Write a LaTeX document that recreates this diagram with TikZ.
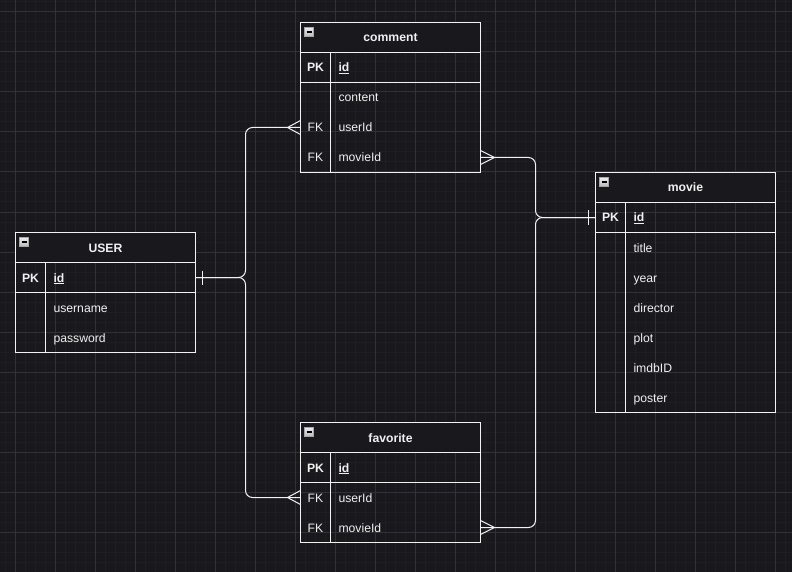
\documentclass[tikz,border=0pt]{standalone}
\usepackage{fontspec}
\setmainfont{Liberation Sans}
\usetikzlibrary{positioning,calc}
\definecolor{bgc}{HTML}{19181D}
\definecolor{gridmin}{HTML}{1F1E23}
\definecolor{gridmaj}{HTML}{323137}
\definecolor{linec}{HTML}{F2F2F2}
\definecolor{txtc}{HTML}{F0F0F0}
\def\pkey(#1){\underline{\textbf{#1}}}
\tikzset{
  hdr/.style={draw=linec, fill=bgc, line width=1pt, minimum width=180pt, minimum height=30pt,
    inner sep=0pt, outer sep=0pt, text height=11pt, text depth=2pt, text=txtc,
    font=\fontsize{12.2}{14}\selectfont\bfseries},
  keycell/.style={minimum width=30pt, minimum height=30pt, inner sep=0pt, outer sep=0pt,
    text height=11pt, text depth=2pt, text=txtc, font=\fontsize{12.2}{14}\selectfont},
  fieldcell/.style={minimum height=30pt, text width=134pt, inner xsep=8pt, inner ysep=0pt,
    outer sep=0pt, align=left, text height=11pt, text depth=2pt, text=txtc,
    font=\fontsize{12.2}{14}\selectfont},
  icon/.style={draw=gray!70, top color=gray!15, bottom color=gray!55, minimum size=9pt,
    inner sep=0pt, outer sep=0pt},
  tblline/.style={draw=linec, line width=1pt},
  conn/.style={draw=linec, line width=1pt, rounded corners=7pt},
  gridminor/.style={draw=gridmin, line width=1pt},
  gridmajor/.style={draw=gridmaj, line width=1pt}
}

\begin{document}
\begin{tikzpicture}[x=1pt,y=-1pt]
\useasboundingbox (0,0) rectangle (792,572);
\fill[bgc] (0,0) rectangle (792,572);
\foreach \x in {5,15,...,785} \draw[gridminor] (\x,0) -- (\x,572);
\foreach \y in {2,12,...,572} \draw[gridminor] (0,\y) -- (792,\y);
\foreach \x in {15,55,...,775} \draw[gridmajor] (\x,0) -- (\x,572);
\foreach \y in {12,52,...,572} \draw[gridmajor] (0,\y) -- (792,\y);

% USER
\node[hdr, anchor=north west] (user) at (15.5,232.5) {USER};
\node[icon, below right=5pt and 4pt of user.north west] (user-icon) {\textcolor{black}{\rule{5pt}{1.4pt}}};
\node[keycell, below right=0pt of user.south west] (user-pk) {\textbf{PK}};
\node[fieldcell, right=0pt of user-pk] (user-id) {\pkey(id)};
\node[keycell, below=0pt of user-pk] (user-k2) {};
\node[fieldcell, right=0pt of user-k2] (user-name) {username};
\node[keycell, below=0pt of user-k2] (user-k3) {};
\node[fieldcell, right=0pt of user-k3] (user-pw) {password};
\draw[tblline] (user.north west) rectangle (user-pw.south east);
\draw[tblline] (user-pk.south west) -- (user-id.south east);
\draw[tblline] (user-pk.north east) -- (user-k3.south east);

% comment
\node[hdr, anchor=north west] (cmt) at (300.5,22.5) {comment};
\node[icon, below right=5pt and 4pt of cmt.north west] (cmt-icon) {\textcolor{black}{\rule{5pt}{1.4pt}}};
\node[keycell, below right=0pt of cmt.south west] (cmt-pk) {\textbf{PK}};
\node[fieldcell, right=0pt of cmt-pk] (cmt-id) {\pkey(id)};
\node[keycell, below=0pt of cmt-pk] (cmt-k2) {};
\node[fieldcell, right=0pt of cmt-k2] (cmt-content) {content};
\node[keycell, below=0pt of cmt-k2] (cmt-uk) {FK};
\node[fieldcell, right=0pt of cmt-uk] (cmt-uid) {userId};
\node[keycell, below=0pt of cmt-uk] (cmt-mk) {FK};
\node[fieldcell, right=0pt of cmt-mk] (cmt-mid) {movieId};
\draw[tblline] (cmt.north west) rectangle (cmt-mid.south east);
\draw[tblline] (cmt-pk.south west) -- (cmt-id.south east);
\draw[tblline] (cmt-pk.north east) -- (cmt-mk.south east);

% movie
\node[hdr, anchor=north west] (mov) at (595.5,172.5) {movie};
\node[icon, below right=5pt and 4pt of mov.north west] (mov-icon) {\textcolor{black}{\rule{5pt}{1.4pt}}};
\node[keycell, below right=0pt of mov.south west] (mov-pk) {\textbf{PK}};
\node[fieldcell, right=0pt of mov-pk] (mov-id) {\pkey(id)};
\node[keycell, below=0pt of mov-pk] (mov-k2) {};
\node[fieldcell, right=0pt of mov-k2] (mov-title) {title};
\node[keycell, below=0pt of mov-k2] (mov-k3) {};
\node[fieldcell, right=0pt of mov-k3] (mov-year) {year};
\node[keycell, below=0pt of mov-k3] (mov-k4) {};
\node[fieldcell, right=0pt of mov-k4] (mov-dir) {director};
\node[keycell, below=0pt of mov-k4] (mov-k5) {};
\node[fieldcell, right=0pt of mov-k5] (mov-plot) {plot};
\node[keycell, below=0pt of mov-k5] (mov-k6) {};
\node[fieldcell, right=0pt of mov-k6] (mov-imdb) {imdbID};
\node[keycell, below=0pt of mov-k6] (mov-k7) {};
\node[fieldcell, right=0pt of mov-k7] (mov-poster) {poster};
\draw[tblline] (mov.north west) rectangle (mov-poster.south east);
\draw[tblline] (mov-pk.south west) -- (mov-id.south east);
\draw[tblline] (mov-pk.north east) -- (mov-k7.south east);

% favorite
\node[hdr, anchor=north west] (fav) at (300.5,422.5) {favorite};
\node[icon, below right=5pt and 4pt of fav.north west] (fav-icon) {\textcolor{black}{\rule{5pt}{1.4pt}}};
\node[keycell, below right=0pt of fav.south west] (fav-pk) {\textbf{PK}};
\node[fieldcell, right=0pt of fav-pk] (fav-id) {\pkey(id)};
\node[keycell, below=0pt of fav-pk] (fav-uk) {FK};
\node[fieldcell, right=0pt of fav-uk] (fav-uid) {userId};
\node[keycell, below=0pt of fav-uk] (fav-mk) {FK};
\node[fieldcell, right=0pt of fav-mk] (fav-mid) {movieId};
\draw[tblline] (fav.north west) rectangle (fav-mid.south east);
\draw[tblline] (fav-pk.south west) -- (fav-id.south east);
\draw[tblline] (fav-pk.north east) -- (fav-mk.south east);

% relations
\coordinate (uj) at (245.5,277.5);
\coordinate (mj) at (535.5,217.5);
\draw[conn] (user-id.east) -- (uj) |- (cmt-uk.west);
\draw[conn] (user-id.east) -- (uj) |- (fav-uk.west);
\draw[conn] (cmt-mid.east) -| (mj) -- (mov-pk.west);
\draw[conn] (fav-mid.east) -| (mj) -- (mov-pk.west);

% one
\draw[tblline] ($(user-id.east)+(7,-7)$) -- ($(user-id.east)+(7,7)$);
\draw[tblline] ($(mov-pk.west)+(-7,-7)$) -- ($(mov-pk.west)+(-7,7)$);
% many
\draw[tblline] ($(cmt-uk.west)+(0,-7)$) -- ($(cmt-uk.west)+(-13,0)$) -- ($(cmt-uk.west)+(0,7)$);
\draw[tblline] ($(fav-uk.west)+(0,-7)$) -- ($(fav-uk.west)+(-13,0)$) -- ($(fav-uk.west)+(0,7)$);
\draw[tblline] ($(cmt-mid.east)+(0,-7)$) -- ($(cmt-mid.east)+(14,0)$) -- ($(cmt-mid.east)+(0,7)$);
\draw[tblline] ($(fav-mid.east)+(0,-7)$) -- ($(fav-mid.east)+(14,0)$) -- ($(fav-mid.east)+(0,7)$);
\end{tikzpicture}
\end{document}
